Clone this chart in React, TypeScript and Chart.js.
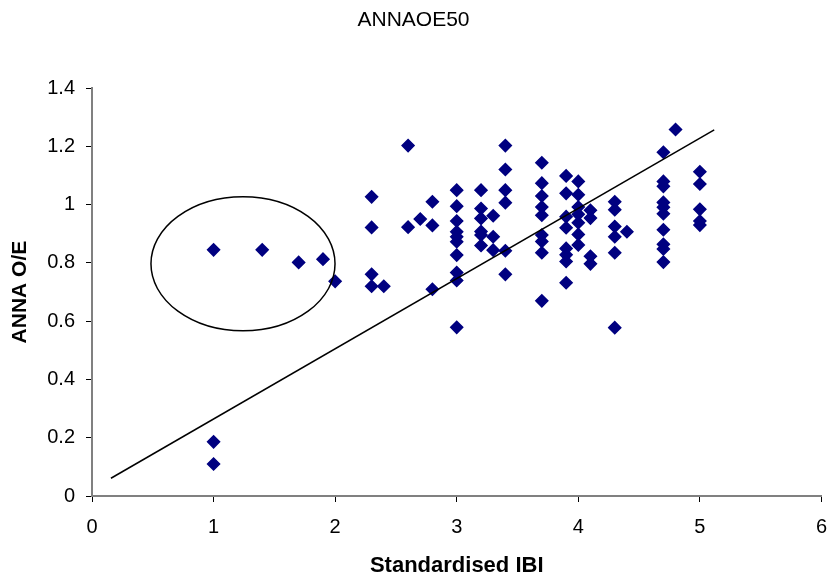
import React, { useEffect, useRef } from "react";
import { Chart, registerables } from "chart.js";

Chart.register(...registerables);

// Standardised IBI (x) and ANNA O/E (y) observations
const ibi: number[] = [
  1.0, 1.0, 1.0,
  1.4, 1.7, 1.9, 2.0,
  2.3, 2.3, 2.3, 2.3,
  2.4,
  2.6, 2.6,
  2.7,
  2.8, 2.8, 2.8,
  3.0, 3.0, 3.0, 3.0, 3.0, 3.0, 3.0, 3.0, 3.0, 3.0,
  3.2, 3.2, 3.2, 3.2, 3.2, 3.2,
  3.3, 3.3, 3.3,
  3.4, 3.4, 3.4, 3.4, 3.4, 3.4,
  3.7, 3.7, 3.7, 3.7, 3.7, 3.7, 3.7, 3.7, 3.7,
  3.9, 3.9, 3.9, 3.9, 3.9, 3.9, 3.9, 3.9,
  4.0, 4.0, 4.0, 4.0, 4.0, 4.0, 4.0,
  4.1, 4.1, 4.1, 4.1,
  4.3, 4.3, 4.3, 4.3, 4.3, 4.3,
  4.4,
  4.7, 4.7, 4.7, 4.7, 4.7, 4.7, 4.7, 4.7, 4.7, 4.7,
  4.8,
  5.0, 5.0, 5.0, 5.0, 5.0,
];

const annaOE: number[] = [
  0.845, 0.186, 0.110,
  0.845, 0.802, 0.813, 0.737,
  1.027, 0.922, 0.761, 0.720,
  0.720,
  1.203, 0.923,
  0.951,
  1.010, 0.929, 0.710,
  1.050, 0.995, 0.944, 0.907, 0.890, 0.873, 0.827, 0.767, 0.740, 0.579,
  1.050, 0.987, 0.953, 0.908, 0.896, 0.860,
  0.962, 0.890, 0.844,
  1.203, 1.121, 1.050, 1.007, 0.842, 0.761,
  1.144, 1.074, 1.030, 0.992, 0.964, 0.896, 0.874, 0.835, 0.670,
  1.099, 1.039, 0.959, 0.921, 0.850, 0.828, 0.805, 0.732,
  1.080, 1.034, 0.992, 0.967, 0.938, 0.898, 0.862,
  0.981, 0.954, 0.823, 0.797,
  1.010, 0.983, 0.925, 0.890, 0.835, 0.578,
  0.907,
  1.180, 1.080, 1.063, 1.008, 0.991, 0.969, 0.914, 0.864, 0.848, 0.803,
  1.258,
  1.113, 1.071, 0.984, 0.944, 0.930,
];

// Trend line end points
const trendX: number[] = [0.156, 5.118];
const trendY: number[] = [0.061, 1.257];

// Ellipse highlighting the outlying group (data units)
const ellipseCenter = { x: 1.242, y: 0.797 };
const ellipseRadius = { x: 0.757, y: 0.23 };

const xTicks: number[] = [0, 1, 2, 3, 4, 5, 6];
const yTicks: number[] = [0, 0.2, 0.4, 0.6, 0.8, 1.0, 1.2, 1.4];

const FONT = "'Liberation Sans', Arial, Helvetica, sans-serif";

const ellipsePlugin = {
  id: "ellipseMark",
  afterDatasetsDraw(chart: any) {
    const xs = chart.scales.x;
    const ys = chart.scales.y;
    const cx = xs.getPixelForValue(ellipseCenter.x);
    const cy = ys.getPixelForValue(ellipseCenter.y);
    const rx = Math.abs(xs.getPixelForValue(ellipseCenter.x + ellipseRadius.x) - cx);
    const ry = Math.abs(ys.getPixelForValue(ellipseCenter.y + ellipseRadius.y) - cy);
    const ctx = chart.ctx;
    ctx.save();
    ctx.beginPath();
    ctx.ellipse(cx, cy, rx, ry, 0, 0, Math.PI * 2);
    ctx.strokeStyle = "#000000";
    ctx.lineWidth = 1.5;
    ctx.stroke();
    ctx.restore();
  },
};

export default function App() {
  const ref = useRef<HTMLCanvasElement | null>(null);

  useEffect(() => {
    if (!ref.current) return;
    const points = ibi.map((x, i) => ({ x, y: annaOE[i] }));
    const trend = trendX.map((x, i) => ({ x, y: trendY[i] }));
    const chart = new Chart(ref.current, {
      type: "scatter",
      data: {
        datasets: [
          {
            type: "line",
            label: "Trend",
            data: trend,
            borderColor: "#000000",
            borderWidth: 1.5,
            pointRadius: 0,
            fill: false,
            order: 0,
          } as any,
          {
            label: "ANNAOE50",
            data: points,
            pointStyle: "rectRot",
            pointRadius: 6,
            pointHoverRadius: 6,
            backgroundColor: "#000080",
            borderColor: "#000080",
            borderWidth: 1.5,
            order: 1,
          },
        ],
      },
      plugins: [ellipsePlugin],
      options: {
        responsive: false,
        animation: false,
        devicePixelRatio: 1,
        layout: { autoPadding: false, padding: { left: 0, right: 0, top: 0, bottom: 0 } },
        plugins: {
          legend: { display: false },
          tooltip: { enabled: false },
          title: {
            display: true,
            text: "ANNAOE50",
            color: "#000000",
            font: { family: FONT, size: 21, weight: "normal", lineHeight: 1.2 },
            padding: { top: 8, bottom: 55 },
          },
        },
        scales: {
          x: {
            type: "linear",
            min: 0,
            max: 6,
            afterBuildTicks: (scale: any) => {
              scale.ticks = xTicks.map((v) => ({ value: v }));
            },
            afterFit: (scale: any) => {
              scale.height = 82;
            },
            ticks: {
              color: "#000000",
              font: { family: FONT, size: 20, lineHeight: 2.5 },
              padding: 0,
              callback: (v: any) => String(v),
            },
            grid: {
              drawOnChartArea: false,
              drawTicks: true,
              tickLength: 6,
              color: "#000000",
            },
            border: { display: true, color: "#808080", width: 2 },
            title: {
              display: true,
              text: "Standardised IBI",
              color: "#000000",
              font: { family: FONT, size: 22, weight: "bold", lineHeight: 1.1 },
              padding: { top: 0, bottom: 0 },
            },
          },
          y: {
            type: "linear",
            min: 0,
            max: 1.4,
            afterBuildTicks: (scale: any) => {
              scale.ticks = yTicks.map((v) => ({ value: v }));
            },
            afterFit: (scale: any) => {
              scale.width = 92;
            },
            ticks: {
              color: "#000000",
              font: { family: FONT, size: 20 },
              padding: 11,
              callback: (v: any) => {
                const n = Number(v);
                return Number.isInteger(n) ? String(n) : String(Math.round(n * 10) / 10);
              },
            },
            grid: {
              drawOnChartArea: false,
              drawTicks: true,
              tickLength: 6,
              color: "#000000",
            },
            border: { display: true, color: "#808080", width: 2 },
            title: {
              display: true,
              text: "ANNA O/E",
              color: "#000000",
              font: { family: FONT, size: 21, weight: "bold", lineHeight: 1.2 },
              padding: { top: 8, bottom: 0 },
            },
          },
        },
      },
    });
    return () => chart.destroy();
  }, []);

  return (
    <div style={{ position: "absolute", left: 0, top: 0, width: 827, height: 578, background: "#ffffff" }}>
      <canvas ref={ref} width={827} height={578} style={{ display: "block" }} />
    </div>
  );
}
